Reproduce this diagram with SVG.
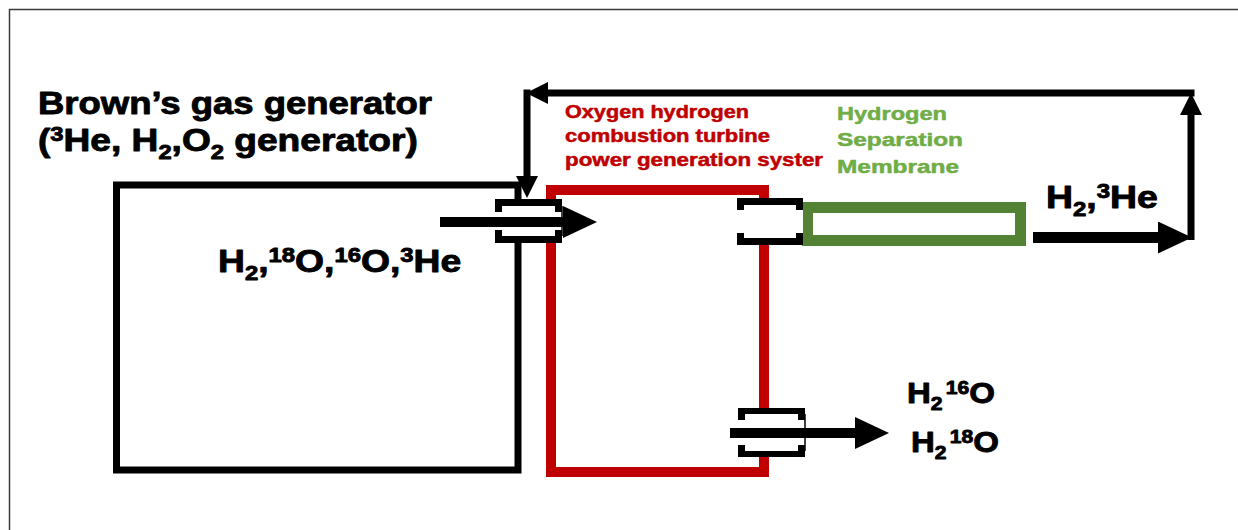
<svg xmlns="http://www.w3.org/2000/svg" width="1238" height="530" viewBox="0 0 1238 530">
<defs>
<style>
text{font-family:"Liberation Sans",Arial,Helvetica,sans-serif;font-weight:700;stroke-linejoin:round}
.k{fill:#000;stroke:#000;stroke-width:0.9}
.r{fill:#C00000;stroke:#C00000;stroke-width:0.5;font-size:18px}
.g{fill:#70AD47;stroke:#70AD47;stroke-width:0.5;font-size:19px}
.s{font-size:64%}
.ln{fill:none;stroke:#000}
.fl{fill:#000}
.pt{fill:#fff}
.th{fill:none;stroke:#000;stroke-width:1.5}
</style>
<marker id="ah" markerUnits="userSpaceOnUse" viewBox="0 0 34 32" refX="0" refY="16" markerWidth="34" markerHeight="32" orient="auto"><path d="M0,0 L34,16 L0,32 Z" fill="#000"/></marker>
<marker id="ahs" markerUnits="userSpaceOnUse" viewBox="0 0 22 22" refX="0" refY="11" markerWidth="22" markerHeight="22" orient="auto"><path d="M0,0 L22,11 L0,22 Z" fill="#000"/></marker>
</defs>
<rect width="1238" height="530" fill="#fff"/>
<path d="M9.5,530 V9.5 H1238" fill="none" stroke="#3a3a3a" stroke-width="1.5"/>

<g id="browns-gas-generator">
<rect x="116.5" y="185" width="401.5" height="285" fill="none" stroke="#000" stroke-width="7"/>
<text class="k" x="38" y="114" font-size="32" textLength="394" lengthAdjust="spacingAndGlyphs">Brown’s gas generator</text>
<text class="k" font-size="32" transform="translate(38,151) scale(1.16,1)">(<tspan class="s" dy="-10">3</tspan><tspan dy="10">He, H</tspan><tspan class="s" dy="8">2</tspan><tspan dy="-8">,O</tspan><tspan class="s" dy="8">2</tspan><tspan dy="-8"> generator)</tspan></text>
</g>

<g id="combustion-turbine">
<rect x="551" y="190" width="213" height="282" fill="none" stroke="#C00000" stroke-width="10"/>
<text class="r" x="565" y="118" textLength="184" lengthAdjust="spacingAndGlyphs">Oxygen hydrogen</text>
<text class="r" x="565" y="142" textLength="205" lengthAdjust="spacingAndGlyphs">combustion turbine</text>
<text class="r" x="565" y="166" textLength="258" lengthAdjust="spacingAndGlyphs">power generation syster</text>
</g>

<g id="separation-membrane">
<rect x="807.5" y="207.5" width="213" height="33" fill="none" stroke="#548235" stroke-width="11"/>
<text class="g" x="837" y="120" textLength="110" lengthAdjust="spacingAndGlyphs">Hydrogen</text>
<text class="g" x="837" y="146" textLength="126" lengthAdjust="spacingAndGlyphs">Separation</text>
<text class="g" x="837" y="173" textLength="122" lengthAdjust="spacingAndGlyphs">Membrane</text>
</g>

<g id="inlet-port">
<rect class="pt" x="495" y="199" width="67" height="44"/>
<path class="fl" d="M495,199 H562 V212 H555 V206 H502 V212 H495 Z"/>
<path class="fl" d="M495,243 H562 V230 H555 V236 H502 V230 H495 Z"/>
<path class="th" d="M562,206 V236"/>
</g>

<g id="membrane-port">
<rect class="pt" x="737" y="198" width="66" height="47"/>
<path class="fl" d="M737,198 H803 V210 H796 V205 H744 V210 H737 Z"/>
<path class="fl" d="M737,245 H803 V233 H796 V238 H744 V233 H737 Z"/>
</g>

<g id="drain-port">
<rect class="pt" x="738" y="408" width="67" height="49"/>
<path class="fl" d="M738,408 H805 V420 H798 V414 H745 V420 H738 Z"/>
<path class="fl" d="M738,457 H805 V445 H798 V451 H745 V445 H738 Z"/>
<path class="th" d="M805,414 V451"/>
</g>

<g id="connectors">
<path class="ln" stroke-width="10" d="M440,222 H563" marker-end="url(#ah)"/>
<path class="ln" stroke-width="10" d="M730,433 H855" marker-end="url(#ah)"/>
<path class="ln" stroke-width="11" d="M1033,237.5 H1158" marker-end="url(#ah)"/>
<path class="ln" stroke-width="7" d="M1191,240 V115" marker-end="url(#ahs)"/>
<path class="ln" stroke-width="7" d="M1194.5,93 H548" marker-end="url(#ahs)"/>
<path class="ln" stroke-width="7" d="M527,89.5 V176" marker-end="url(#ahs)"/>
<text class="k" font-size="32" transform="translate(218,272) scale(1.165,1)">H<tspan class="s" dy="8">2</tspan><tspan dy="-8">,</tspan><tspan class="s" dy="-10">18</tspan><tspan dy="10">O,</tspan><tspan class="s" dy="-10">16</tspan><tspan dy="10">O,</tspan><tspan class="s" dy="-10">3</tspan><tspan dy="10">He</tspan></text>
<text class="k" font-size="32" transform="translate(1046,208) scale(1.17,1)">H<tspan class="s" dy="8">2</tspan><tspan dy="-8">,</tspan><tspan class="s" dy="-10">3</tspan><tspan dy="10">He</tspan></text>
<text class="k" font-size="30" transform="translate(907,403) scale(1.1,1)">H<tspan class="s" dy="7">2</tspan><tspan class="s" dx="3" dy="-16">16</tspan><tspan dy="9">O</tspan></text>
<text class="k" font-size="30" transform="translate(911,451.5) scale(1.1,1)">H<tspan class="s" dy="7">2</tspan><tspan class="s" dx="3" dy="-16">18</tspan><tspan dy="9">O</tspan></text>
</g>
</svg>
